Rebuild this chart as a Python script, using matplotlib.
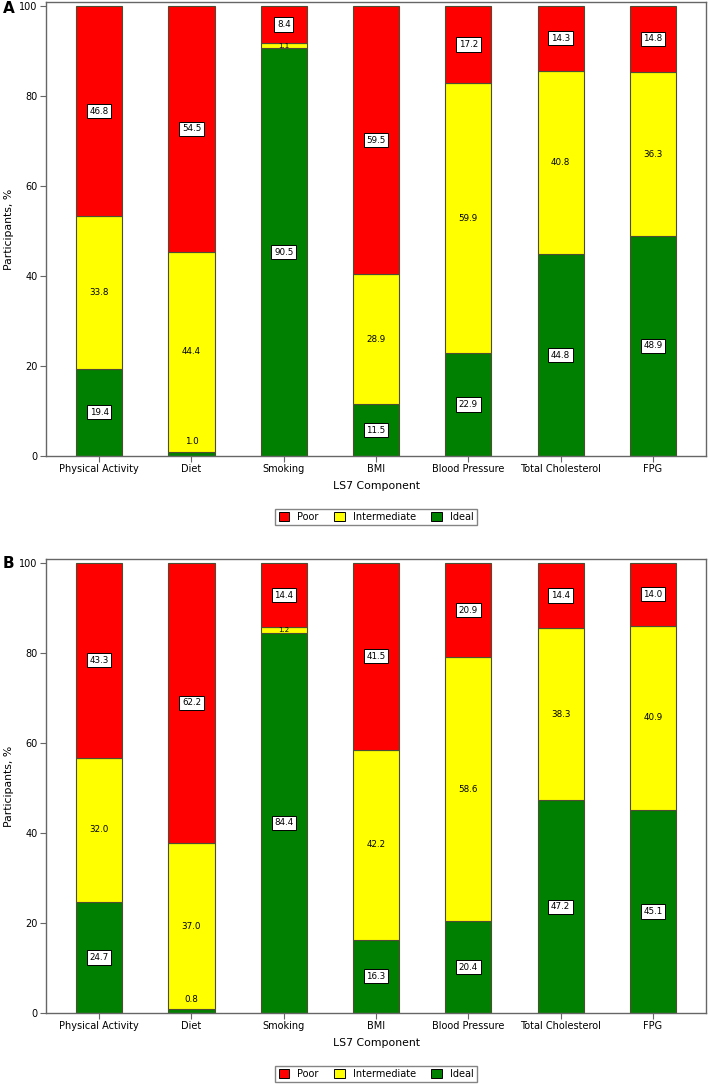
import numpy as np
import matplotlib
matplotlib.use("Agg")
import matplotlib.pyplot as plt
from matplotlib.patches import Patch

components = ["Physical Activity", "Diet", "Smoking", "BMI", "Blood Pressure",
              "Total Cholesterol", "FPG"]

ideal_a = [19.4, 1.0, 90.5, 11.5, 22.9, 44.8, 48.9]
inter_a = [33.8, 44.4, 1.1, 28.9, 59.9, 40.8, 36.3]
poor_a = [46.8, 54.5, 8.4, 59.5, 17.2, 14.3, 14.8]

ideal_b = [24.7, 0.8, 84.4, 16.3, 20.4, 47.2, 45.1]
inter_b = [32.0, 37.0, 1.2, 42.2, 58.6, 38.3, 40.9]
poor_b = [43.3, 62.2, 14.4, 41.5, 20.9, 14.4, 14.0]

RED = "#ff0000"
YELLOW = "#ffff00"
GREEN = "#008000"
EDGE = "#4d4d33"
SPINE = "#666666"

plt.rcParams['font.family'] = ['DejaVu Sans']


def draw_panel(ax, ideal, inter, poor):
    x = np.arange(len(components))
    ideal = np.array(ideal)
    inter = np.array(inter)
    poor = np.array(poor)
    ax.bar(x, ideal, width=0.5, color=GREEN, edgecolor=EDGE, linewidth=0.8)
    ax.bar(x, inter, width=0.5, bottom=ideal, color=YELLOW, edgecolor=EDGE, linewidth=0.8)
    ax.bar(x, poor, width=0.5, bottom=ideal + inter, color=RED, edgecolor=EDGE, linewidth=0.8)

    box = dict(boxstyle="square,pad=0.3", fc="white", ec="black", lw=0.7)
    for i in range(len(x)):
        # ideal
        if ideal[i] < 3:
            ax.text(x[i], ideal[i] + 2.2, f"{ideal[i]:.1f}", ha="center", va="center", fontsize=6.3)
        else:
            ax.text(x[i], ideal[i] / 2, f"{ideal[i]:.1f}", ha="center", va="center",
                    fontsize=6.3, bbox=box)
        # intermediate, no box
        ax.text(x[i], ideal[i] + inter[i] / 2, f"{inter[i]:.1f}", ha="center", va="center",
                fontsize=6.3 if inter[i] >= 3 else 5)
        # poor
        ax.text(x[i], ideal[i] + inter[i] + poor[i] / 2, f"{poor[i]:.1f}", ha="center",
                va="center", fontsize=6.3, bbox=box)

    ax.set_xlim(-0.576, len(components) - 1 + 0.576)
    ax.set_ylim(0, 100.8)
    ax.set_yticks([0, 20, 40, 60, 80, 100])
    ax.set_xticks(x)
    ax.set_xticklabels(components)
    ax.tick_params(axis="both", labelsize=7, length=4, width=0.8, color=SPINE, pad=2)
    for s in ax.spines.values():
        s.set_color(SPINE)
        s.set_linewidth(1.0)
    ax.set_xlabel("LS7 Component", fontsize=7.8, labelpad=5)
    ax.set_ylabel("Participants, %", fontsize=7.8)
    ax.yaxis.set_label_coords(-0.049, 0.5)

    handles = [Patch(facecolor=RED, edgecolor="black", lw=0.7, label="Poor"),
               Patch(facecolor=YELLOW, edgecolor="black", lw=0.7, label="Intermediate"),
               Patch(facecolor=GREEN, edgecolor="black", lw=0.7, label="Ideal")]
    leg = ax.legend(handles=handles, loc="upper center", bbox_to_anchor=(0.5, -0.105),
                    ncol=3, fontsize=7, frameon=True, fancybox=False,
                    handlelength=1.1, handleheight=1.1, handletextpad=0.8,
                    columnspacing=1.6, borderpad=0.35)
    leg.get_frame().set_edgecolor(SPINE)
    leg.get_frame().set_linewidth(1.0)


fig = plt.figure(figsize=(7.09, 10.84), dpi=100)
ax_a = fig.add_axes([0.0649, 0.5793, 0.931, 0.4188])
ax_b = fig.add_axes([0.0649, 0.0655, 0.931, 0.4188])

draw_panel(ax_a, ideal_a, inter_a, poor_a)
draw_panel(ax_b, ideal_b, inter_b, poor_b)

fig.text(0.004, 0.9917, "A", fontsize=11, fontweight="bold", va="center")
fig.text(0.004, 0.4806, "B", fontsize=11, fontweight="bold", va="center")

fig.savefig("out.png", dpi=100)
